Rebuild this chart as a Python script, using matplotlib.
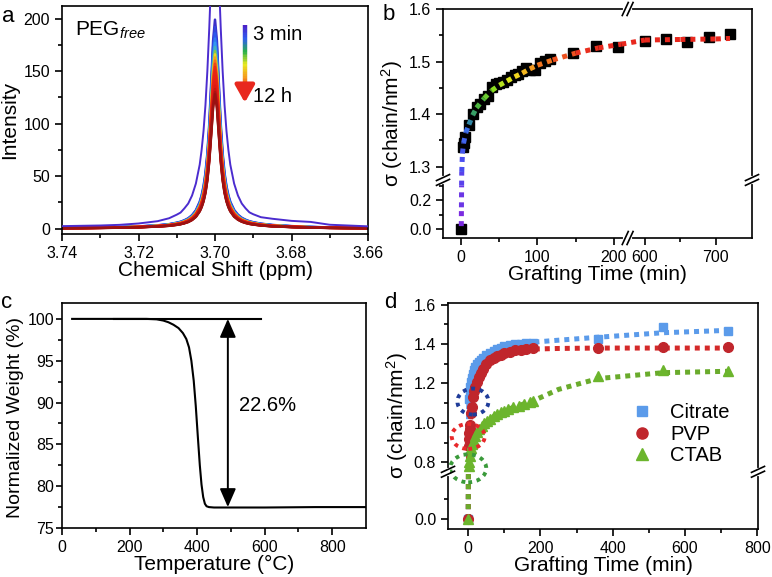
import numpy as np
import matplotlib
matplotlib.use('Agg')
import matplotlib.pyplot as plt
from matplotlib import transforms
from matplotlib.collections import LineCollection
from matplotlib.colors import LinearSegmentedColormap
from matplotlib.lines import Line2D
from matplotlib.patches import Ellipse

plt.rcParams['font.family'] = ['Liberation Sans', 'DejaVu Sans']
plt.rcParams['mathtext.fontset'] = 'custom'
plt.rcParams['mathtext.rm'] = 'Liberation Sans'
plt.rcParams['mathtext.it'] = 'Liberation Sans:italic'
plt.rcParams['axes.linewidth'] = 1.2

# (a) NMR peak of free PEG, 3 min ... 12 h
a_shift = [3.74, 3.73, 3.725, 3.72, 3.715, 3.712, 3.71, 3.709, 3.708, 3.707,
           3.706, 3.705, 3.704, 3.7035, 3.703, 3.7025, 3.702, 3.7015, 3.701,
           3.7005, 3.700,
           3.6995, 3.699, 3.6985, 3.698, 3.6975, 3.697, 3.6965, 3.696, 3.695,
           3.694, 3.693, 3.692, 3.691, 3.69, 3.688, 3.685, 3.68, 3.675, 3.67, 3.66]
a_3min = [2.5, 3.1, 3.7, 5.0, 7.2, 10, 13.4, 15.4, 19.4, 24,
          31.6, 43, 61, 75, 93, 117.5, 150, 191, 239,
          281, 298,
          281, 239, 191, 150, 117.5, 93, 75, 61, 43,
          31.6, 24, 19.4, 15.6, 13.8, 11, 9.5, 7.5, 6.5, 3.8, 2.3]
a_12h = [0.5, 0.8, 1.0, 1.4, 2.1, 2.8, 3.7, 4.3, 5.2, 6.4,
         8.3, 11.3, 16.5, 20.5, 26, 34, 46, 64, 89,
         115, 128,
         115, 89, 64, 46, 34, 26, 20.5, 16.5, 11.5,
         8.6, 6.7, 5.5, 4.6, 4.0, 3.1, 2.3, 1.6, 1.1, 0.8, 0.5]
# peak heights of the later spectra (last one = 12 h)
a_peaks = [199, 192, 186, 181, 177, 173, 169, 166, 163, 160, 157, 154, 151,
           148, 145, 142, 139, 136, 133, 130, 128]

# (b) grafting density vs time
b_time = [0, 2, 3, 5, 10, 16, 20, 25, 30, 35, 40, 45, 50, 55, 60, 65, 70, 75,
          80, 85, 90, 97, 103, 110, 117, 147, 177, 205, 600, 630, 660, 690, 720]
b_sigma = [0.0, 1.338, 1.345, 1.357, 1.380, 1.400, 1.413, 1.420, 1.428, 1.435,
           1.451, 1.457, 1.459, 1.461, 1.465, 1.470, 1.474, 1.477, 1.482, 1.488,
           1.484, 1.484, 1.498, 1.501, 1.505, 1.516, 1.530, 1.527,
           1.540, 1.542, 1.538, 1.547, 1.552]
b_fit_time = [0, 0.2, 0.4, 0.6, 1.5, 3, 6, 10, 15, 20, 30, 40, 50, 60, 70, 80,
              90, 100, 120, 150, 180, 210, 600, 650, 700, 720]
b_fit_sigma = [0.02, 0.15, 0.3, 1.29, 1.325, 1.345, 1.365, 1.38, 1.398, 1.412,
               1.430, 1.445, 1.455, 1.463, 1.471, 1.478, 1.486, 1.493, 1.503,
               1.516, 1.526, 1.533, 1.541, 1.542, 1.543, 1.544]

# (c) TGA
c_temp = [30, 100, 150, 200, 250, 280, 300, 315, 330, 345, 358, 368, 376, 383,
          390, 396, 402, 408, 413, 418, 423, 428, 435, 450, 600, 750, 900]
c_weight = [100.0, 100.0, 100.0, 100.0, 100.0, 99.95, 99.8, 99.6, 99.3, 98.9,
            98.3, 97.6, 96.6, 95.0, 92.6, 89.6, 86.0, 82.5, 80.2, 78.7, 77.9,
            77.6, 77.5, 77.45, 77.45, 77.5, 77.5]

# (d) different capping ligands
d_cit_time = [0, 2, 4, 6, 8, 10, 13, 16, 20, 25, 30, 35, 40, 50, 60, 70, 80, 90,
              100, 115, 130, 145, 160, 180, 360, 540, 720]
d_cit_sigma = [0.0, 1.12, 1.15, 1.18, 1.21, 1.23, 1.25, 1.27, 1.285, 1.30, 1.31,
               1.32, 1.33, 1.345, 1.355, 1.366, 1.375, 1.382, 1.388, 1.395, 1.40,
               1.403, 1.406, 1.408, 1.426, 1.485, 1.465]
d_pvp_time = [0, 1, 2, 3, 4, 5, 8, 10, 13, 16, 20, 25, 30, 35, 40, 50, 60, 70,
              80, 90, 100, 115, 130, 145, 160, 180, 360, 540, 720]
d_pvp_sigma = [0.0, 0.88, 0.92, 0.95, 0.97, 0.99, 1.05, 1.08, 1.13, 1.16, 1.18,
               1.205, 1.235, 1.255, 1.275, 1.30, 1.317, 1.332, 1.34, 1.347, 1.353,
               1.36, 1.368, 1.372, 1.376, 1.378, 1.380, 1.383, 1.383]
d_ctab_time = [0, 2, 3, 5, 8, 11, 15, 20, 25, 30, 37, 45, 52, 60, 70, 80, 90,
               100, 110, 125, 140, 155, 170, 180, 360, 540, 720]
d_ctab_sigma = [0.0, 0.78, 0.80, 0.83, 0.87, 0.89, 0.91, 0.935, 0.955, 0.97,
                0.985, 1.0, 1.01, 1.02, 1.035, 1.045, 1.055, 1.062, 1.07, 1.078,
                1.088, 1.098, 1.105, 1.112, 1.238, 1.270, 1.262]
d_fit_time = [0, 0.5, 1, 2, 5, 10, 20, 40, 80, 120, 180, 250, 360, 540, 720]
d_cit_fit = [0.0, 0.7, 1.05, 1.12, 1.17, 1.23, 1.29, 1.335, 1.375, 1.395, 1.41,
             1.42, 1.435, 1.458, 1.47]
d_pvp_fit = [0.0, 0.7, 0.85, 0.92, 0.99, 1.08, 1.18, 1.275, 1.34, 1.362, 1.375,
             1.378, 1.38, 1.38, 1.38]
d_ctab_fit = [0.0, 0.6, 0.75, 0.78, 0.83, 0.88, 0.935, 0.99, 1.045, 1.075, 1.112,
              1.17, 1.225, 1.255, 1.262]
# dotted circles marking the early points
circ_time = [13, 0, 0]
circ_sigma = [1.108, 0.931, 0.769]

TICK_FS = 11.5
LABEL_FS = 15
TEXT_FS = 14.5

fig = plt.figure(figsize=(7.72, 5.77), dpi=100)


def px_axes(left, top, right, bottom):
    W, H = 772, 577
    return fig.add_axes([left / W, 1 - bottom / H, (right - left) / W, (bottom - top) / H])


def style(ax):
    ax.tick_params(which='both', direction='out', top=False, right=False,
                   labelsize=TICK_FS, width=1.2)
    ax.tick_params(which='major', length=5)
    ax.tick_params(which='minor', length=3)


def gap_scale(lo, hi, k_lo, k_hi, gap):
    src = [lo - 1e4, lo, hi, hi + 1e4]
    dst = [(lo - 1e4) * k_lo, lo * k_lo, lo * k_lo + gap, lo * k_lo + gap + 1e4 * k_hi]
    return (lambda v: np.interp(v, src, dst), lambda v: np.interp(v, dst, src))


def break_mark(ax, fx, fy, vertical_spine):
    trans = fig.dpi_scale_trans + transforms.ScaledTranslation(fx, fy, ax.transAxes)
    kw = dict(transform=trans, clip_on=False)
    if vertical_spine:
        ax.add_line(Line2D([0, 0], [-0.022, 0.022], color='white', lw=3, zorder=10, **kw))
        for off in (-0.024, 0.024):
            ax.add_line(Line2D([-0.065, 0.065], [off - 0.03, off + 0.03], color='k', lw=1.2, zorder=11, **kw))
    else:
        ax.add_line(Line2D([-0.022, 0.022], [0, 0], color='white', lw=3, zorder=10, **kw))
        for off in (-0.024, 0.024):
            ax.add_line(Line2D([off - 0.03, off + 0.03], [-0.065, 0.065], color='k', lw=1.2, zorder=11, **kw))


# ---------------- panel a ----------------
ax = px_axes(62, 6, 368, 234)
style(ax)
shift = np.array(a_shift)
ax.plot(shift, a_3min, color='#4b2ccf', lw=1.4, zorder=3)
cmap_a = LinearSegmentedColormap.from_list('nmr', [
    (0, '#9a1212'), (0.12, '#e01a14'), (0.38, '#ec2a18'), (0.47, '#f5861c'),
    (0.535, '#f2d223'), (0.59, '#5ec85a'), (0.66, '#38a8f0'), (0.8, '#2c5ef0'),
    (1, '#3b2fc8')])
base = np.array(a_12h)
for p in a_peaks:
    ax.plot(shift, base * p / a_peaks[-1], color=cmap_a((p - 128) / 71), lw=1.8, zorder=2)
ax.set_xlim(3.74, 3.66)
ax.set_ylim(-5, 212)
ax.set_xticks([3.74, 3.72, 3.70, 3.68, 3.66])
ax.set_xticklabels(['3.74', '3.72', '3.70', '3.68', '3.66'])
ax.set_xticks([3.73, 3.71, 3.69, 3.67], minor=True)
ax.set_yticks([0, 50, 100, 150, 200])
ax.set_yticks([25, 75, 125, 175], minor=True)
ax.set_xlabel('Chemical Shift (ppm)', fontsize=LABEL_FS, labelpad=0)
ax.set_ylabel('Intensity', fontsize=LABEL_FS, labelpad=3)
ax.text(0.042, 0.895, r'PEG$_{\mathit{free}}$', transform=ax.transAxes,
        fontsize=LABEL_FS, va='center', ha='left')
# colour arrow legend
bar_x = 3.6922
ys = np.linspace(194, 131, 40)
bar = LineCollection([[(bar_x, ys[i]), (bar_x, ys[i + 1])] for i in range(len(ys) - 1)],
                     colors=LinearSegmentedColormap.from_list('bar', [
                         '#4a22c8', '#2f5cf0', '#28b04a', '#e8e820', '#f59a1e', '#e8281e'])(
                         np.linspace(0, 1, len(ys) - 1)),
                     linewidths=3.2, zorder=5)
ax.add_collection(bar)
ax.annotate('', xy=(bar_x, 120), xytext=(bar_x, 132),
            arrowprops=dict(arrowstyle='-|>,head_length=0.8,head_width=0.45',
                            color='#e8281e', lw=3.2, mutation_scale=13,
                            shrinkA=0, shrinkB=0), zorder=5)
ax.text(3.6900, 184.8, '3 min', fontsize=TEXT_FS, va='center', ha='left')
ax.text(3.6900, 125.4, '12 h', fontsize=TEXT_FS, va='center', ha='left')

# ---------------- panel b ----------------
ax = px_axes(443, 9, 752, 238)
style(ax)
ax.set_xscale('function', functions=gap_scale(218, 576, 0.763, 0.71, 0.5))
ax.set_yscale('function', functions=gap_scale(0.338, 1.275, 145, 526.7, 0.3))
ax.set_xlim(-24, 751)
ax.set_ylim(-0.062, 1.6)
ax.plot(b_time, b_sigma, ls='none', marker='s', ms=6.5, color='black', zorder=2)
cmap_b = LinearSegmentedColormap.from_list('fit', [
    (0, '#7b2be0'), (0.12, '#4a4cf0'), (0.26, '#3a70e8'), (0.3, '#2d8c8c'),
    (0.36, '#3fae45'), (0.46, '#8ede20'), (0.56, '#f0e820'), (0.68, '#f59020'),
    (0.8, '#e8281e'), (1, '#e8281e')])
segs = [[(b_fit_time[i], b_fit_sigma[i]), (b_fit_time[i + 1], b_fit_sigma[i + 1])]
        for i in range(len(b_fit_time) - 1)]
ax.add_collection(LineCollection(segs, colors=cmap_b(np.linspace(0, 1, len(segs))),
                                 linewidths=3.6, linestyles=[(0, (1, 1))], zorder=3))
ax.set_xticks([0, 100, 200, 600, 700])
ax.set_xticklabels(['0', '100', '200', '600', '700'])
ax.set_xticks([50, 150, 650], minor=True)
ax.set_yticks([0.0, 0.2, 1.3, 1.4, 1.5, 1.6])
ax.set_yticklabels(['0.0', '0.2', '1.3', '1.4', '1.5', '1.6'])
ax.set_yticks([0.1, 0.3, 1.35, 1.45, 1.55], minor=True)
ax.set_xlabel('Grafting Time (min)', fontsize=LABEL_FS, labelpad=0)
ax.set_ylabel(r'σ (chain/nm$^2$)', fontsize=LABEL_FS, labelpad=3)
to_axes = lambda x, y: ax.transAxes.inverted().transform(ax.transData.transform((x, y)))
fx = to_axes((218 + 576) / 2, 1.0)[0]
fy = to_axes(100, (0.338 + 1.275) / 2)[1]
for xx in (0, 1):
    break_mark(ax, xx, fy, True)
for yy in (0, 1):
    break_mark(ax, fx, yy, False)

# ---------------- panel c ----------------
ax = px_axes(62, 303, 366, 528)
style(ax)
ax.tick_params(axis='y', which='major', length=4, pad=1.5)
ax.plot(c_temp, c_weight, color='black', lw=1.5)
ax.plot([155, 590], [100, 100], color='black', lw=1.5)
ax.annotate('', xy=(491, 77.5), xytext=(491, 100),
            arrowprops=dict(arrowstyle='<|-|>,head_length=0.8,head_width=0.35',
                            color='black', lw=1.4, mutation_scale=14,
                            shrinkA=0, shrinkB=0))
ax.text(525, 89.7, '22.6%', fontsize=TEXT_FS, va='center', ha='left')
ax.set_xlim(0, 900)
ax.set_ylim(75, 101.9)
ax.set_xticks([0, 200, 400, 600, 800])
ax.set_xticks([100, 300, 500, 700], minor=True)
ax.set_yticks([75, 80, 85, 90, 95, 100])
ax.set_yticks([77.5, 82.5, 87.5, 92.5, 97.5], minor=True)
ax.set_xlabel('Temperature (°C)', fontsize=LABEL_FS, labelpad=0)
ax.set_ylabel('Normalized Weight (%)', fontsize=14)
ax.yaxis.set_label_coords(-0.124, 0.49)

# ---------------- panel d ----------------
ax = px_axes(448, 303, 758, 529)
style(ax)
ax.set_yscale('function', functions=gap_scale(0.24, 0.752, 1, 1, 0.0015))
ax.set_xlim(-56, 802)
ax.set_ylim(-0.05, 1.609)
c_cit, c_pvp, c_ctab = '#5b9bea', '#c0262c', '#6cb52d'
dot = dict(lw=3.6, ls=(0, (1, 1)), zorder=2)
ax.plot(d_fit_time, d_cit_fit, color='#5b9bea', **dot)
ax.plot(d_fit_time, d_pvp_fit, color='#d42a2a', **dot)
ax.plot(d_fit_time, d_ctab_fit, color='#6aab2c', **dot)
ax.plot(d_cit_time, d_cit_sigma, ls='none', marker='s', ms=6, color=c_cit, zorder=3)
ax.plot(d_pvp_time, d_pvp_sigma, ls='none', marker='o', ms=7, color=c_pvp, zorder=4)
ax.plot(d_ctab_time, d_ctab_sigma, ls='none', marker='^', ms=7, color=c_ctab, zorder=5)
for cx, cy, (w, h), col in zip(circ_time, circ_sigma,
                               [(0.31, 0.26), (0.33, 0.25), (0.36, 0.28)],
                               ['#1f3c99', '#e8282a', '#3a9a3a']):
    tr = fig.dpi_scale_trans + transforms.ScaledTranslation(cx, cy, ax.transData)
    ax.add_patch(Ellipse((0, 0), w, h, transform=tr, fill=False, edgecolor=col,
                         lw=2.8, ls=(0, (1, 1.2)), zorder=6, clip_on=False))
handles = [Line2D([], [], ls='none', marker='s', ms=6.5, color=c_cit),
           Line2D([], [], ls='none', marker='o', ms=8, color=c_pvp),
           Line2D([], [], ls='none', marker='^', ms=8.5, color=c_ctab)]
ax.legend(handles, ['Citrate', 'PVP', 'CTAB'], loc='upper left',
          bbox_to_anchor=(0.555, 0.6), frameon=False, fontsize=TEXT_FS,
          handlelength=1.2, handletextpad=0.8, labelspacing=0.12, borderpad=0)
ax.set_xticks([0, 200, 400, 600, 800])
ax.set_xticks([100, 300, 500, 700], minor=True)
ax.set_yticks([0.0, 0.8, 1.0, 1.2, 1.4, 1.6])
ax.set_yticklabels(['0.0', '0.8', '1.0', '1.2', '1.4', '1.6'])
ax.set_yticks([0.1, 0.9, 1.1, 1.3, 1.5], minor=True)
ax.set_xlabel('Grafting Time (min)', fontsize=LABEL_FS, labelpad=0)
ax.set_ylabel(r'σ (chain/nm$^2$)', fontsize=LABEL_FS, labelpad=3)
fy = ax.transAxes.inverted().transform(ax.transData.transform((0, (0.24 + 0.752) / 2)))[1]
for xx in (0, 1):
    break_mark(ax, xx, fy, True)

# panel letters
for letter, x, y in [('a', 8, 16), ('b', 389, 14), ('c', 7, 302), ('d', 390, 303)]:
    fig.text(x / 772, 1 - y / 577, letter, fontsize=16, ha='center', va='center')

fig.savefig('out.png', dpi=100)
